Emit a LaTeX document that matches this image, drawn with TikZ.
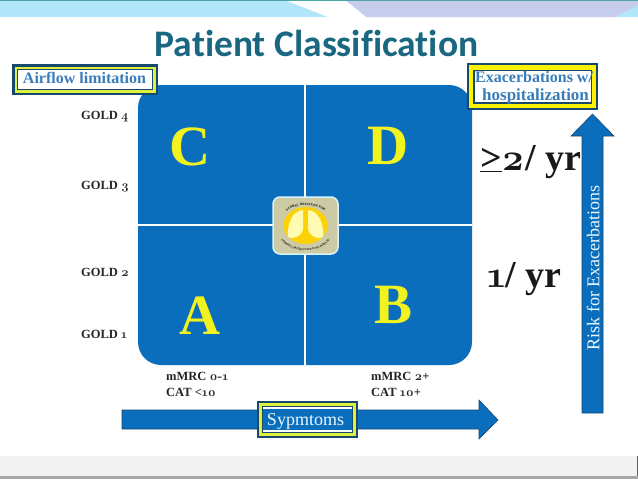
\documentclass[tikz,border=0pt]{standalone}
\usepackage{fontspec}
\usepackage{tikz}
\usetikzlibrary{calc,shapes,positioning,decorations.text}
\setmainfont{Liberation Serif}
\newfontfamily\titlefont[Ligatures=NoCommon]{Carlito}
\newfontfamily\osnfont[Numbers=OldStyle]{Latin Modern Roman}
\definecolor{panelblue}{HTML}{0A6EBD}
\definecolor{titleteal}{HTML}{1A6782}
\definecolor{boxblue}{HTML}{17496E}
\definecolor{boxyellow}{HTML}{DDF03C}
\definecolor{txtblue}{HTML}{3A7DBB}
\definecolor{lettery}{HTML}{F2F21E}
\definecolor{logobeige}{HTML}{CDCBA6}
\newcommand{\osn}[1]{{\osnfont #1}}
\tikzset{
  goldlabel/.style={font=\bfseries\fontsize{12.5}{12.5}\selectfont,text=black!85,inner sep=0pt},
  scorelabel/.style={font=\bfseries\fontsize{12.5}{16.5}\selectfont,align=left,anchor=north west,inner sep=0pt,text=black!85},
  bigletter/.style={font=\bfseries\fontsize{57}{57}\selectfont,text=lettery,inner sep=0pt},
  ratelabel/.style={font=\bfseries\fontsize{38}{38}\selectfont,text=black!90,inner sep=0pt},
  arrowbar/.style={fill=panelblue,draw=boxblue,line width=.6pt}
}
\begin{document}
\begin{tikzpicture}[x=1pt,y=-1pt]
\useasboundingbox (0,0) rectangle (638,479);

% header and footer bands
\fill[white] (0,0) rectangle (638,479);
\fill[cyan!30] (0,0) rectangle (638,17);
\fill[cyan!35!blue!22] (345,0) -- (638,0) -- (638,5) -- (615,17) -- (366,17) -- cycle;
\fill[white] (285,0) -- (345,0) -- (366,17) -- (328,17) -- cycle;
\draw[teal!70,line width=.8pt] (0,.4) -- (638,.4);
\fill[black!5] (0,456) rectangle (638,476);
\fill[black!35] (0,476) rectangle (638,479);
\draw[black!60,line width=.6pt] (637.5,456) -- (637.5,476);

\node[font=\titlefont\bfseries\fontsize{37.5}{37.5}\selectfont,text=titleteal,inner sep=0pt] (title) at (316.5,43) {Patient Classification};

% panel
\fill[panelblue,rounded corners=23pt] (138,85) rectangle (472,365);
\draw[white,line width=1.5pt] (305,85) -- (305,365);
\draw[white,line width=1.5pt] (138,225) -- (472,225);

\foreach \name/\letter/\x/\y in {c/C/190/147,d/D/388/146,a/A/200/316,b/B/394/305}
  \node[bigletter] (\name) at (\x,\y) {\letter};

% logo
\draw[fill=logobeige,draw=cyan!15,line width=1.5pt,rounded corners=7pt] (273,197) rectangle (338,254);
\fill[yellow!70!orange] (305.5,225.5) ellipse (22pt and 18.5pt);
\fill[yellow!30!white] (303,210) .. controls (292,211) and (287,224) .. (288,237) .. controls (295,240) and (303,235) .. (303,228) -- cycle;
\fill[yellow!30!white] (308,210) .. controls (319,211) and (324,224) .. (323,237) .. controls (316,240) and (308,235) .. (308,228) -- cycle;
\path[decorate,decoration={text along path,text align=center,
  text={|\fontsize{3.2}{4}\selectfont\bfseries|GLOBAL INITIATIVE FOR}}]
  (279,225) .. controls (281,199) and (330,199) .. (332,225);
\path[decorate,decoration={text along path,text align=center,
  text={|\fontsize{2.7}{3}\selectfont\bfseries|CHRONIC OBSTRUCTIVE LUNG DISEASE}}]
  (276,228) .. controls (279,258) and (332,258) .. (335,228);

\foreach \name/\lvl/\y in {g4/4/117,g3/3/187,g2/2/272,g1/1/334}
  \node[goldlabel,anchor=west] (\name) at (81,\y) {GOLD \osn{\lvl}};

% axis boxes
\foreach \a/\b/\clr in {12/64/boxblue,14.5/66.5/boxyellow,17/69/boxblue}
  \fill[\clr] (\a,\b) rectangle (170-\a,159-\b);
\fill[white] (18,70) rectangle (152,89);
\node[font=\bfseries\fontsize{16}{16}\selectfont,text=txtblue,inner sep=0pt] (flow) at (84.5,78) {Airflow limitation};

\foreach \a/\b/\clr in {467/63/boxblue,469/65/yellow,473/69.5/boxblue}
  \fill[\clr] (\a,\b) rectangle (1065-\a,173-\b);
\fill[white] (474.5,71) rectangle (590.5,102);
\node[font=\bfseries\fontsize{16}{18}\selectfont,text=txtblue,inner sep=0pt,align=left,anchor=west] (ex) at (475,88) {Exacerbations w/\\ \hspace{7pt}{\fontsize{17}{18}\selectfont hospitalization}};

\node[ratelabel,anchor=base west] (hi) at (480,170) {\underline{>}\osn{2}/ yr};
\node[ratelabel,anchor=base west] (lo) at (487,287) {\osn{1}/ yr};

% symptom axis
\node[scorelabel] (m1) at (166,372) {mMRC \osn{0-1}\\CAT <\osn{10}};
\node[scorelabel] (m2) at (371,372) {mMRC \osn{2}+\\CAT \osn{10}+};

\fill[arrowbar] (122,410) -- (479,410) -- (479,400) -- (498,420) -- (479,439) -- (479,429) -- (122,429) -- cycle;
\foreach \a/\b/\clr in {257/401/boxblue,259/403/boxyellow,262/406/boxblue,263/407/white}
  \fill[\clr] (\a,\b) rectangle (615-\a,839-\b);
\fill[panelblue] (263,409) rectangle (352,430);
\node[font=\fontsize{18}{18}\selectfont,text=cyan!8,inner sep=0pt,anchor=base] (sym) at (305.5,425) {Sypmtoms};

% risk axis
\fill[arrowbar] (582,413) -- (582,136) -- (571,136) -- (592.5,114) -- (614,136) -- (603,136) -- (603,413) -- cycle;
\node[rotate=90,font=\fontsize{18}{18}\selectfont,text=cyan!8,inner sep=0pt] (risk) at (593,268) {Risk for Exacerbations};
\end{tikzpicture}
\end{document}
